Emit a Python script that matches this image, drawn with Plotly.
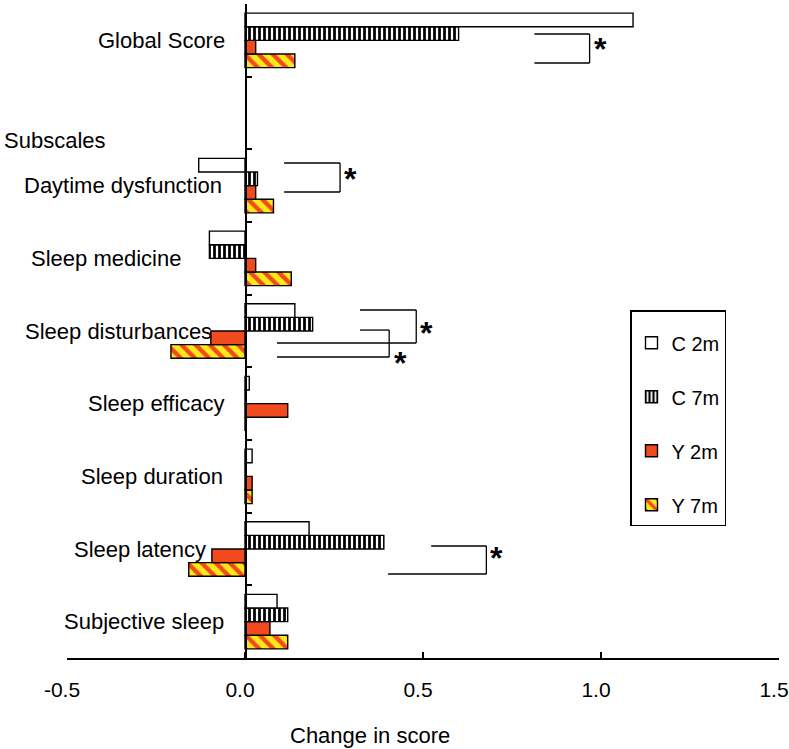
import plotly.graph_objects as go

# ---------------- data ----------------
categories = ["Global Score", "Daytime dysfunction", "Sleep medicine", "Sleep disturbances",
              "Sleep efficacy", "Sleep duration", "Sleep latency", "Subjective sleep"]
header_label = "Subscales"

c_2m = [1.09, -0.13, -0.10, 0.14, 0.012, 0.02, 0.18, 0.09]
c_7m = [0.60, 0.035, -0.10, 0.19, 0.0, 0.0, 0.39, 0.12]
y_2m = [0.03, 0.03, 0.03, -0.096, 0.12, 0.02, -0.093, 0.07]
y_7m = [0.14, 0.08, 0.13, -0.208, 0.0, 0.02, -0.158, 0.12]

x_ticks = [-0.5, 0.0, 0.5, 1.0, 1.5]
x_title = "Change in score"

# slot positions: Global Score on top, one blank slot for the "Subscales" header, then subscales
n = len(categories)
ypos = [n] + list(range(n - 2, -1, -1))

# significance brackets: (y_top, y_bottom, x_left_top, x_left_bottom, x_right, star_x, star_y)
brackets = [
    (8.087, 7.688, 0.813, 0.813, 0.968, 0.999, 7.935),
    (6.312, 5.913, 0.110, 0.110, 0.267, 0.295, 6.146),
    (4.289, 3.835, 0.323, 0.090, 0.481, 0.509, 4.027),
    (4.013, 3.642, 0.323, 0.090, 0.405, 0.436, 3.614),
    (1.041, 0.656, 0.523, 0.402, 0.678, 0.706, 0.931),
]

# ---------------- styles ----------------
RED = "#F04A1E"
YEL = "#FFE81A"
OUT = dict(color="black", width=1.4)

PL, PR, PT, PB = 67, 779, 4, 658
W, H = 789, 749
def px_to_paper(px):
    return (px - PL) / (PR - PL)
def py_to_paper(py):
    return (PB - py) / (PB - PT)

label_centers_px = [161, 123, 106, 118, 156, 152, 140, 144]

fig = go.Figure()

series = [
    ("Y 7m", y_7m, dict(color=YEL, pattern=dict(shape="\\", fgcolor=RED, bgcolor=YEL, size=10, solidity=0.42)), 4),
    ("Y 2m", y_2m, dict(color=RED), 3),
    ("C 7m", c_7m, dict(color="white", pattern=dict(shape="|", fgcolor="black", bgcolor="white", size=5, solidity=0.55)), 2),
    ("C 2m", c_2m, dict(color="white"), 1),
]
for name, vals, mk, rank in series:
    mk = dict(mk)
    mk["line"] = OUT
    fig.add_trace(go.Bar(
        x=vals, y=ypos, orientation="h", name=name, marker=mk,
        legendrank=rank, legendgroup=name,
    ))

shapes = []
annotations = []
for (yt, yb, xlt, xlb, xr, sx, sy) in brackets:
    shapes.append(dict(type="line", xref="x", yref="y", x0=xlt, x1=xr, y0=yt, y1=yt,
                       line=dict(color="black", width=1.3)))
    shapes.append(dict(type="line", xref="x", yref="y", x0=xlb, x1=xr, y0=yb, y1=yb,
                       line=dict(color="black", width=1.3)))
    shapes.append(dict(type="line", xref="x", yref="y", x0=xr, x1=xr, y0=yt, y1=yb,
                       line=dict(color="black", width=1.3)))
    annotations.append(dict(x=sx, y=sy, xref="x", yref="y", text="<b>*</b>", showarrow=False,
                            font=dict(size=32, color="black"), xanchor="center", yanchor="middle",
                            yshift=-4))

for cat, yv, cx in zip(categories, ypos, label_centers_px):
    annotations.append(dict(x=px_to_paper(cx), y=yv, xref="paper", yref="y", text=cat,
                            showarrow=False, xanchor="center", yanchor="middle",
                            font=dict(size=22, color="black")))

annotations.append(dict(x=px_to_paper(2), y=py_to_paper(140), xref="paper", yref="paper",
                        text=header_label, showarrow=False, xanchor="left", yanchor="middle",
                        font=dict(size=22, color="black")))
annotations.append(dict(x=px_to_paper(370), y=py_to_paper(735), xref="paper", yref="paper",
                        text=x_title, showarrow=False, xanchor="center", yanchor="middle",
                        font=dict(size=22, color="black")))

fig.update_layout(
    template="none",
    width=W, height=H,
    margin=dict(l=PL, r=W - PR, t=PT, b=H - PB, pad=0, autoexpand=False),
    plot_bgcolor="white", paper_bgcolor="white",
    font=dict(family="Liberation Sans, Arial, sans-serif", color="black"),
    barmode="group", bargap=0.25, bargroupgap=0,
    showlegend=True,
    legend=dict(x=px_to_paper(630), y=py_to_paper(310), xanchor="left", yanchor="top",
                bordercolor="black", borderwidth=1.5, bgcolor="white",
                font=dict(size=20, color="black"), tracegroupgap=25,
                title=dict(text="&nbsp;", font=dict(size=9))),
    shapes=shapes,
    annotations=annotations,
)
fig.update_xaxes(range=[-0.5, 1.5], tickvals=x_ticks, ticktext=[f"{v:.1f}" for v in x_ticks],
                 ticks="inside", ticklen=6, tickwidth=1.5, tickcolor="black",
                 showline=True, linecolor="black", linewidth=1.5, automargin=False,
                 showgrid=False, zeroline=False, tickfont=dict(size=21, color="black"),
                 ticklabelstandoff=12, ticklabelshift=-5, ticklabeloverflow="allow")
fig.update_yaxes(range=[-0.5, n + 0.5], anchor="free", position=px_to_paper(246),
                 tickvals=[i - 0.5 for i in range(n + 2)], ticks="inside", ticklen=5,
                 tickwidth=1.5, tickcolor="black", showticklabels=False, automargin=False,
                 showline=True, linecolor="black", linewidth=1.5,
                 showgrid=False, zeroline=False)

fig.write_html("out.html", config={"displayModeBar": False},
               post_script="document.body.style.margin='0px';document.body.style.overflow='hidden';")
